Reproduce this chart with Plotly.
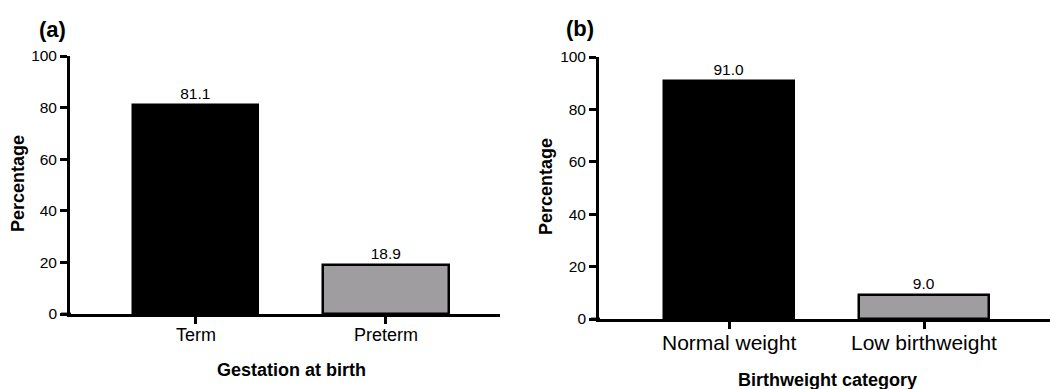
import plotly.graph_objects as go

# Data
gest_categories = ["Term", "Preterm"]
gest_values = [81.1, 18.9]
bw_categories = ["Normal weight", "Low birthweight"]
bw_values = [91.0, 9.0]
y_ticks = [0, 20, 40, 60, 80, 100]

W, H = 1050, 389
FONT = "Liberation Sans, Arial, sans-serif"
BAR_COLORS = ["#000000", "#a09da0"]

def px(x):
    return x / W

def py(y):
    return 1 - y / H

fig = go.Figure()

fig.add_trace(go.Bar(
    x=gest_categories, y=gest_values, xaxis="x", yaxis="y",
    marker=dict(color=BAR_COLORS, line=dict(color="black", width=2.5)),
    width=0.658,
    text=[f"{v:.1f}" for v in gest_values], textposition="outside",
    textfont=dict(family=FONT, size=15.5, color="black"),
    cliponaxis=False, showlegend=False,
))
fig.add_trace(go.Bar(
    x=bw_categories, y=bw_values, xaxis="x2", yaxis="y2",
    marker=dict(color=BAR_COLORS, line=dict(color="black", width=2.5)),
    width=0.667,
    text=[f"{v:.1f}" for v in bw_values], textposition="outside",
    textfont=dict(family=FONT, size=15.5, color="black"),
    cliponaxis=False, showlegend=False,
))

axis_common = dict(showgrid=False, zeroline=False, showline=True, linecolor="black",
                   linewidth=2.8, ticks="outside", tickwidth=2.8, tickcolor="black",
                   ticklen=7, automargin=False)

fig.update_layout(
    width=W, height=H,
    margin=dict(l=0, r=0, t=0, b=0, pad=0, autoexpand=False),
    paper_bgcolor="white", plot_bgcolor="white",
    font=dict(family=FONT, color="black"),
    bargap=0,
    xaxis=dict(domain=[px(70), px(500)], anchor="y", range=[-0.663, 1.6],
               showticklabels=False, **axis_common),
    yaxis=dict(domain=[py(314), py(56)], anchor="x", range=[0, 100],
               tickvals=y_ticks, tickfont=dict(size=15.5), **axis_common),
    xaxis2=dict(domain=[px(599), px(1050)], anchor="y2", range=[-0.667, 1.646],
                showticklabels=False, **axis_common),
    yaxis2=dict(domain=[py(319), py(57)], anchor="x2", range=[0, 100],
                tickvals=y_ticks, tickfont=dict(size=15.5), **axis_common),
)

# short extension of the x-axis line to the left of the y-axis (as in the original)
fig.add_shape(type="line", xref="paper", yref="paper", x0=px(61), x1=px(71),
              y0=py(314), y1=py(314), line=dict(color="black", width=2.8))
fig.add_shape(type="line", xref="paper", yref="paper", x0=px(591), x1=px(600),
              y0=py(319), y1=py(319), line=dict(color="black", width=2.8))

ann = []
# category labels placed on the category axes
for c in gest_categories:
    ann.append(dict(text=c, x=c, xref="x", y=py(335), yref="paper",
                    xanchor="center", yanchor="middle", showarrow=False,
                    font=dict(size=18, family=FONT)))
for c in bw_categories:
    ann.append(dict(text=c, x=c, xref="x2", y=py(342), yref="paper",
                    xanchor="center", yanchor="middle", showarrow=False,
                    font=dict(size=21, family=FONT)))
ann.append(dict(text="<b>(a)</b>", x=px(37), y=py(30), xref="paper", yref="paper",
                xanchor="left", yanchor="middle", showarrow=False,
                font=dict(size=22, family=FONT)))
ann.append(dict(text="<b>(b)</b>", x=px(564), y=py(29), xref="paper", yref="paper",
                xanchor="left", yanchor="middle", showarrow=False,
                font=dict(size=22, family=FONT)))
ann.append(dict(text="<b>Percentage</b>", x=px(18), y=py(184), xref="paper", yref="paper",
                xanchor="center", yanchor="middle", textangle=-90, showarrow=False,
                font=dict(size=18, family=FONT)))
ann.append(dict(text="<b>Percentage</b>", x=px(546), y=py(187), xref="paper", yref="paper",
                xanchor="center", yanchor="middle", textangle=-90, showarrow=False,
                font=dict(size=18, family=FONT)))
ann.append(dict(text="<b>Gestation at birth</b>", x=px(291), y=py(370), xref="paper", yref="paper",
                xanchor="center", yanchor="middle", showarrow=False,
                font=dict(size=18, family=FONT)))
ann.append(dict(text="<b>Birthweight category</b>", x=px(827), y=py(380), xref="paper", yref="paper",
                xanchor="center", yanchor="middle", showarrow=False,
                font=dict(size=18, family=FONT)))
fig.update_layout(annotations=ann)

fig.write_html("out.html", config={"displayModeBar": False},
               post_script="document.body.style.margin='0';")
